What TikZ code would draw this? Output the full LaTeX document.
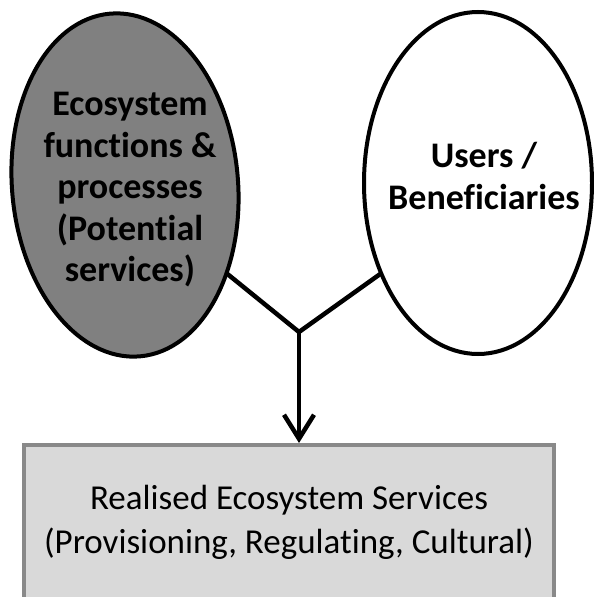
\documentclass[tikz,border=0pt]{standalone}
\usepackage{fontspec}
\setmainfont{Carlito}[Ligatures=NoCommon]
\usetikzlibrary{shapes.geometric,arrows.meta}
\definecolor{fillgray}{RGB}{128,128,128}
\definecolor{boxfill}{RGB}{217,217,217}
\definecolor{boxborder}{RGB}{137,137,137}
\begin{document}
\begin{tikzpicture}[x=1pt,y=-1pt,
  ell/.style={ellipse, draw=black, line width=4pt, inner sep=0pt, outer sep=0pt},
  etext/.style={font=\fontsize{36}{41.5}\selectfont\bfseries, align=center, text=black, inner sep=0pt},
  btext/.style={font=\fontsize{35}{44}\selectfont, align=center},
  conn/.style={line width=4.5pt, draw=black},
  servbox/.style={draw=boxborder, fill=boxfill, line width=4pt, inner sep=0pt}
  ]
\useasboundingbox (0,0) rectangle (594,597);
\node[ell, fill=fillgray, minimum width=226pt, minimum height=344pt, rotate=5] (L) at (125,185) {};
\node[ell, fill=white, minimum width=228pt, minimum height=342pt] (R) at (478,183) {};
\node[etext] (Lt) at (130,190) {Ecosystem\\functions \&\\processes\\(Potential\\services)};
\node[etext] (Rt) at (484,176) {Users /\\Beneficiaries};
\node[servbox, btext, minimum width=530pt, minimum height=155pt] (B) at (289,522.5) {Realised Ecosystem Services\\(Provisioning, Regulating, Cultural)};
\coordinate (J) at (299,332);
\draw[conn, line join=miter] (L.-46.7) -- (J) -- (R.-137.8);
\draw[conn, -{Straight Barb[length=24pt,width=30pt]}] (J) -- (J |- B.north);
\end{tikzpicture}
\end{document}
